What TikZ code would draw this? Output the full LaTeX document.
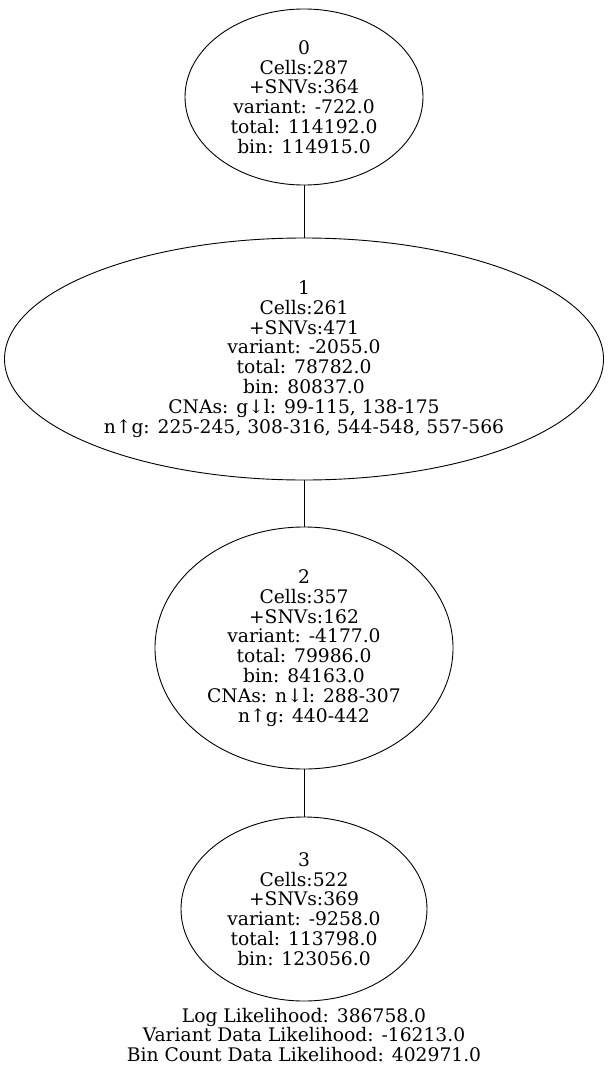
\documentclass[tikz,border=0pt]{standalone}
\usepackage{fontspec}
\setmainfont{DejaVu Serif}
\usetikzlibrary{shapes.geometric}

\begin{document}
\begin{tikzpicture}[x=1pt, y=1pt, line width=0.9pt, every node/.style={align=center, inner sep=0pt, font=\fontsize{18.7}{19.8}\selectfont}, cell/.style={draw, ellipse}]
        \useasboundingbox (0,0) rectangle (608,-1073);
        \node[cell, minimum width=238, minimum height=176] (N0) at (304,-97) {0\\Cells:287\\+SNVs:364\\variant: -722.0\\total: 114192.0\\bin: 114915.0};
        \node[cell, minimum width=599, minimum height=242] (N1) at (304,-359) {1\\Cells:261\\+SNVs:471\\variant: -2055.0\\total: 78782.0\\bin: 80837.0\\CNAs: g↓l: 99-115, 138-175\\n↑g: 225-245, 308-316, 544-548, 557-566};
        \node[cell, minimum width=298, minimum height=242] (N2) at (304,-648) {2\\Cells:357\\+SNVs:162\\variant: -4177.0\\total: 79986.0\\bin: 84163.0\\CNAs: n↓l: 288-307\\n↑g: 440-442};
        \node[cell, minimum width=246, minimum height=184] (N3) at (304,-909) {3\\Cells:522\\+SNVs:369\\variant: -9258.0\\total: 113798.0\\bin: 123056.0};
        \node (LL) at (304,-1035) {Log Likelihood: 386758.0\\Variant Data Likelihood: -16213.0\\Bin Count Data Likelihood: 402971.0};

        \draw (N0) -- (N1);
        \draw (N1) -- (N2);
        \draw (N2) -- (N3);
    \end{tikzpicture}
\end{document}
